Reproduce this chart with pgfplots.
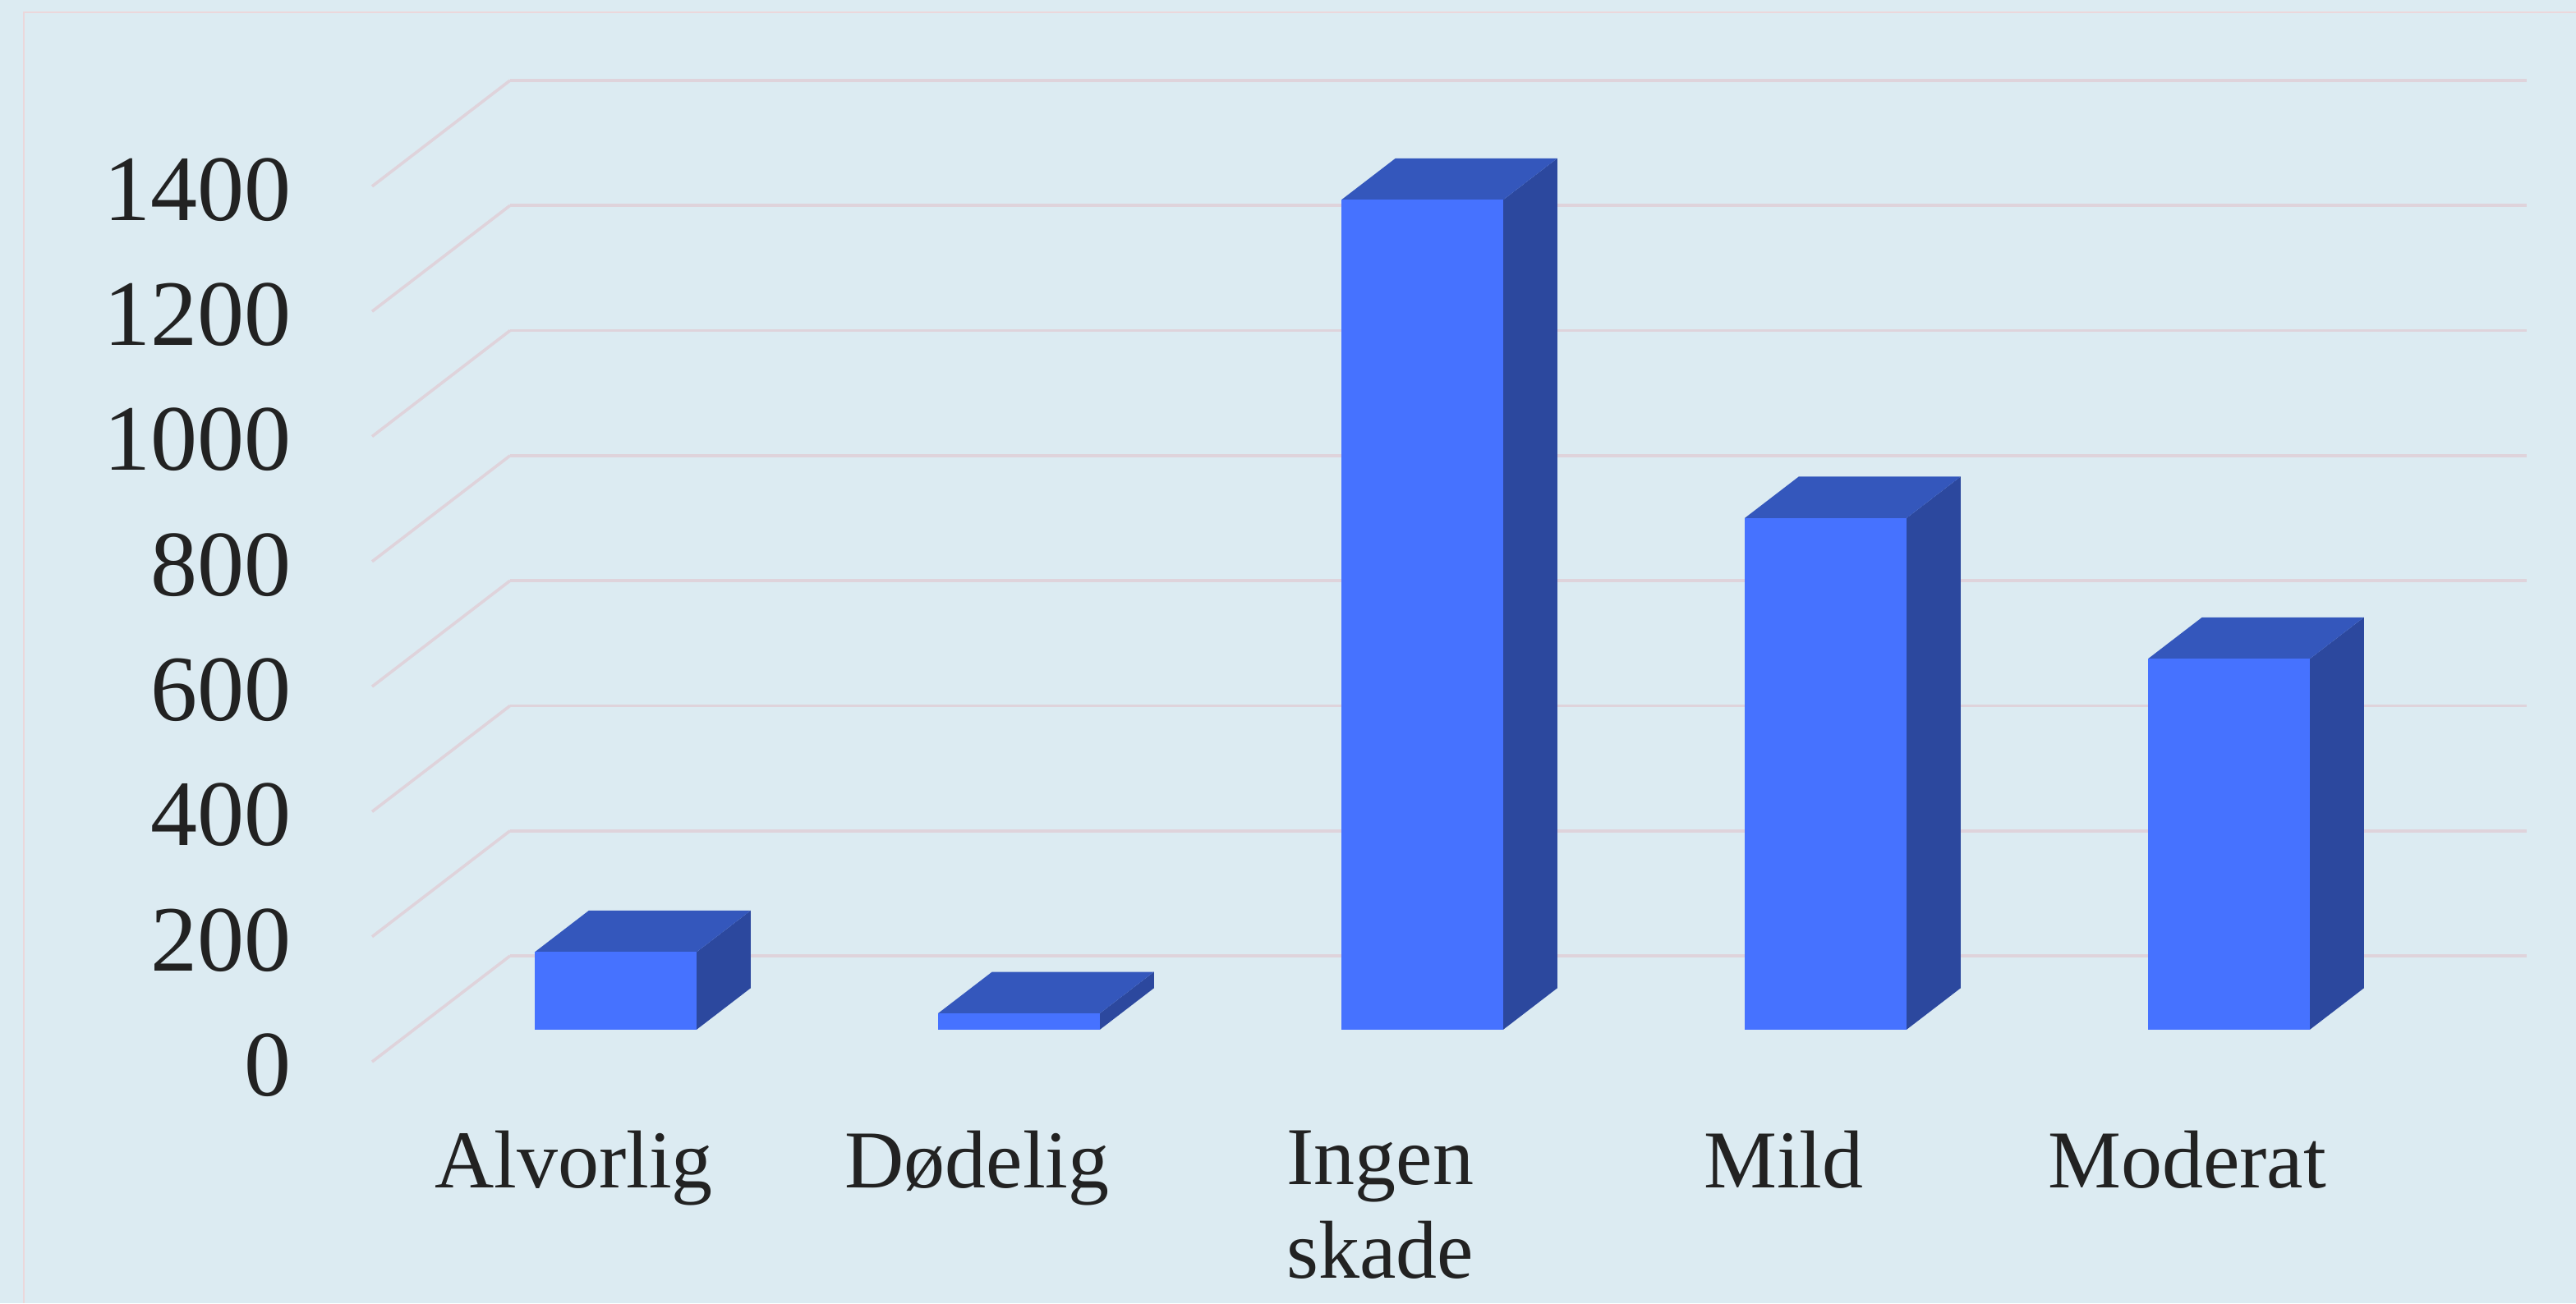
\documentclass[border=0pt]{standalone}
\usepackage{fontspec}
\setmainfont{Liberation Serif}
\usepackage{pgfplots}
\pgfplotsset{compat=1.18}
\definecolor{bg}{HTML}{DCEBF2}
\definecolor{frameline}{HTML}{EBD7DB}
\definecolor{gridc}{HTML}{DFD3DB}
\definecolor{front}{HTML}{4672FF}
\definecolor{topf}{HTML}{3457BC}
\definecolor{sidef}{HTML}{2C489E}
\definecolor{txt}{HTML}{222222}
% left edge, right edge, value
\newcommand{\threedbar}[3]{
  \addplot3[fill=sidef,draw=none] coordinates {(#2,0.304,0) (#2,0.695,0) (#2,0.695,#3) (#2,0.304,#3)};
  \addplot3[fill=topf,draw=none] coordinates {(#1,0.304,#3) (#2,0.304,#3) (#2,0.695,#3) (#1,0.695,#3)};
  \addplot3[fill=front,draw=none] coordinates {(#1,0.304,0) (#2,0.304,0) (#2,0.304,#3) (#1,0.304,#3)};
}
\begin{document}
\begin{tikzpicture}[x=1pt,y=1pt]
\path[use as bounding box,fill=bg] (0,0) rectangle (784,396.75);
\draw[frameline,line width=0.55pt] (7.25,0) -- (7.25,393) -- (784,393);
\begin{axis}[
    anchor=origin,
    at={(174.625pt,73.5pt)},
    x={(122.75pt,0pt)},
    y={(42pt,32.25pt)},
    z={(0pt,0.190375pt)},
    xmin=-0.5, xmax=4.5,
    ymin=0, ymax=1,
    zmin=0, zmax=1400,
    clip=false,
    xtick={0,1,2,3,4},
    xticklabels={Alvorlig,Dødelig,{Ingen\\skade},Mild,Moderat},
    ytick=\empty,
    ztick={0,200,400,600,800,1000,1200,1400},
    zmajorgrids=true,
    xmajorgrids=false,
    grid style={gridc,line width=0.9pt},
    axis line style={draw=none},
    major tick length=0pt,
    /pgf/number format/assume math mode=true,
    /pgf/number format/1000 sep={},
    zticklabel style={font=\fontsize{28.5}{28.5}\selectfont,text=txt,anchor=east,xshift=-21pt,yshift=-1pt},
    xticklabel style={font=\fontsize{25}{28.5}\selectfont,text=txt,align=center,anchor=north,yshift=-17.5pt},
]
\threedbar{-0.2006}{0.2006}{124}
\threedbar{0.7994}{1.2006}{26}
\threedbar{1.7994}{2.2006}{1327}
\threedbar{2.7994}{3.2006}{818}
\threedbar{3.7994}{4.2006}{593}
\end{axis}
\end{tikzpicture}
\end{document}
